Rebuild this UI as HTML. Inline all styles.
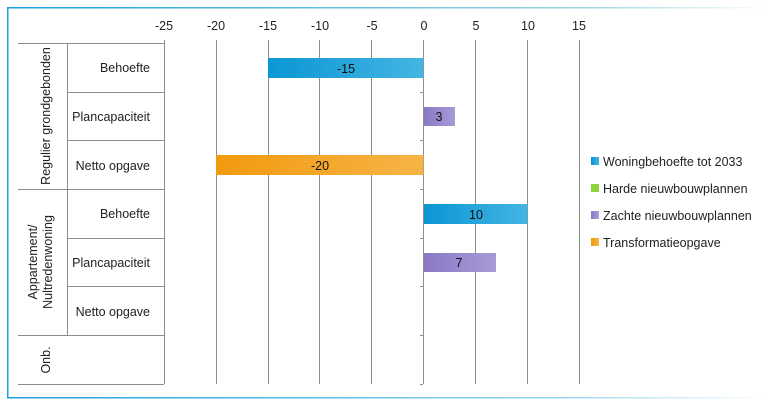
<!DOCTYPE html>
<html><head><meta charset="utf-8"><style>
body{margin:0;background:#fff;}
svg{display:block;font-family:"Liberation Sans",sans-serif;}
</style></head><body>
<svg width="770" height="404" viewBox="0 0 770 404" xmlns="http://www.w3.org/2000/svg">
<defs>
<linearGradient id="bt" x1="0" x2="1"><stop offset="0" stop-color="#1aa0dc"/><stop offset="0.75" stop-color="#9ad6e0"/><stop offset="1" stop-color="#ffffff"/></linearGradient>
<linearGradient id="bb" x1="0" x2="1"><stop offset="0" stop-color="#1aa0dc"/><stop offset="0.7" stop-color="#8fd3ee"/><stop offset="1" stop-color="#ffffff"/></linearGradient>
<linearGradient id="gb" x1="0" x2="1"><stop offset="0" stop-color="#0a96d4"/><stop offset="1" stop-color="#45b5e3"/></linearGradient>
<linearGradient id="gp" x1="0" x2="1"><stop offset="0" stop-color="#8a78c6"/><stop offset="1" stop-color="#a89ad6"/></linearGradient>
<linearGradient id="go" x1="0" x2="1"><stop offset="0" stop-color="#f29a0e"/><stop offset="1" stop-color="#f6b447"/></linearGradient>
</defs>
<rect x="0" y="0" width="770" height="404" fill="#fff"/>
<!-- outer border -->
<rect x="7" y="7" width="763" height="1.5" fill="url(#bt)"/>
<rect x="7" y="397" width="763" height="1.5" fill="url(#bb)"/>
<rect x="7" y="7" width="1.5" height="391" fill="#1aa0dc"/>
<!-- vertical gridlines -->
<g stroke="#8c8c8c" stroke-width="1">
<line x1="164.5" y1="40" x2="164.5" y2="384"/>
<line x1="216.5" y1="40" x2="216.5" y2="384"/>
<line x1="268.5" y1="40" x2="268.5" y2="384"/>
<line x1="319.5" y1="40" x2="319.5" y2="384"/>
<line x1="371.5" y1="40" x2="371.5" y2="384"/>
<line x1="423.5" y1="40" x2="423.5" y2="384"/>
<line x1="475.5" y1="40" x2="475.5" y2="384"/>
<line x1="527.5" y1="40" x2="527.5" y2="384"/>
<line x1="579.5" y1="40" x2="579.5" y2="384"/>
<!-- category lines -->
<line x1="18" y1="43.5" x2="164" y2="43.5"/>
<line x1="67" y1="92.5" x2="164" y2="92.5"/>
<line x1="67" y1="140.5" x2="164" y2="140.5"/>
<line x1="18" y1="189.5" x2="164" y2="189.5"/>
<line x1="67" y1="238.5" x2="164" y2="238.5"/>
<line x1="67" y1="286.5" x2="164" y2="286.5"/>
<line x1="18" y1="335.5" x2="164" y2="335.5"/>
<line x1="18" y1="384.5" x2="164" y2="384.5"/>
<line x1="67.5" y1="43" x2="67.5" y2="335"/>
<!-- zero-axis ticks -->
<line x1="420" y1="92.5" x2="423" y2="92.5"/>
<line x1="420" y1="140.5" x2="423" y2="140.5"/>
<line x1="420" y1="189.5" x2="423" y2="189.5"/>
<line x1="420" y1="238.5" x2="423" y2="238.5"/>
<line x1="420" y1="286.5" x2="423" y2="286.5"/>
<line x1="420" y1="335.5" x2="423" y2="335.5"/>
<line x1="420" y1="384.5" x2="423" y2="384.5"/>
</g>
<!-- tick labels -->
<g font-size="12.5" fill="#222" text-anchor="middle">
<text x="164" y="30">-25</text><text x="216" y="30">-20</text><text x="268" y="30">-15</text>
<text x="320" y="30">-10</text><text x="372" y="30">-5</text><text x="424" y="30">0</text>
<text x="476" y="30">5</text><text x="528" y="30">10</text><text x="579" y="30">15</text>
</g>
<!-- category labels -->
<g font-size="12.5" fill="#222" text-anchor="end">
<text x="150" y="72">Behoefte</text>
<text x="150" y="121">Plancapaciteit</text>
<text x="150" y="170">Netto opgave</text>
<text x="150" y="218">Behoefte</text>
<text x="150" y="267">Plancapaciteit</text>
<text x="150" y="316">Netto opgave</text>
</g>
<g font-size="12.5" fill="#222" text-anchor="middle">
<text transform="translate(50,116) rotate(-90)">Regulier grondgebonden</text>
<text transform="translate(37,262) rotate(-90)">Appartement/</text>
<text transform="translate(52,262) rotate(-90)">Nultredenwoning</text>
<text transform="translate(50,360) rotate(-90)">Onb.</text>
</g>
<!-- bars -->
<rect x="268" y="58" width="155.5" height="20" fill="url(#gb)"/>
<rect x="424" y="107" width="31" height="19" fill="url(#gp)"/>
<rect x="216" y="155" width="207.5" height="20" fill="url(#go)"/>
<rect x="424" y="204" width="103.5" height="20" fill="url(#gb)"/>
<rect x="424" y="253" width="72" height="19" fill="url(#gp)"/>
<g font-size="12.5" fill="#111" text-anchor="middle">
<text x="346" y="73">-15</text>
<text x="439" y="121">3</text>
<text x="320" y="170">-20</text>
<text x="476" y="219">10</text>
<text x="459" y="267">7</text>
</g>
<!-- legend -->
<rect x="591" y="157" width="8" height="8" fill="url(#gb)"/>
<rect x="591" y="184" width="8" height="8" fill="#8ed33a"/>
<rect x="591" y="211" width="8" height="8" fill="url(#gp)"/>
<rect x="591" y="238" width="8" height="8" fill="url(#go)"/>
<g font-size="12.5" fill="#222">
<text x="603" y="166">Woningbehoefte tot 2033</text>
<text x="603" y="193">Harde nieuwbouwplannen</text>
<text x="603" y="220">Zachte nieuwbouwplannen</text>
<text x="603" y="247">Transformatieopgave</text>
</g>
</svg>
</body></html>
